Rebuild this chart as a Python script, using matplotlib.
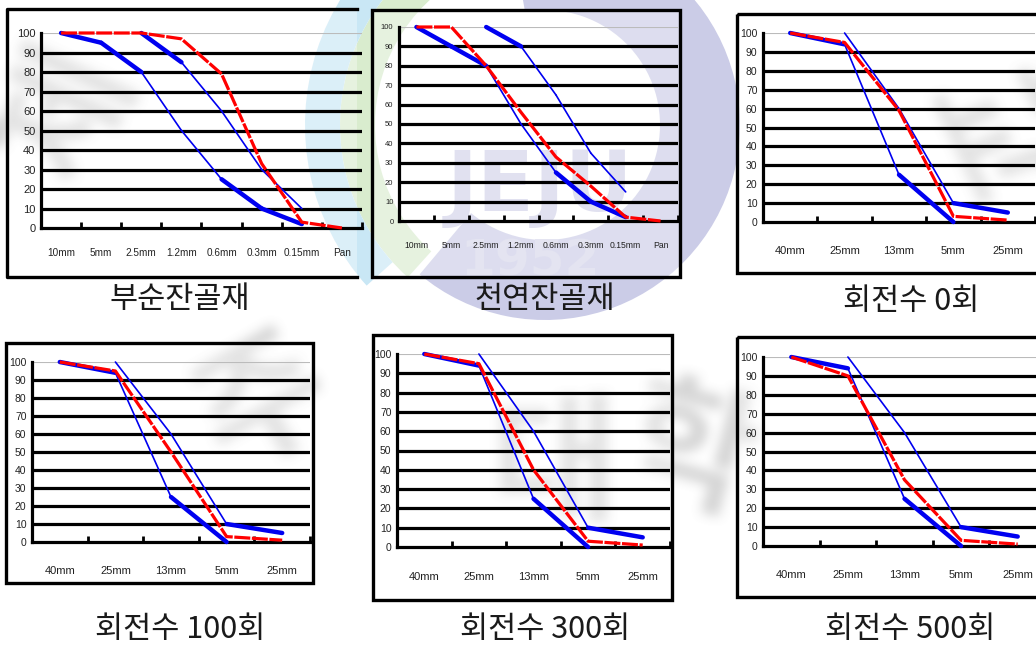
import numpy as np
import matplotlib.pyplot as plt
from matplotlib.patches import Wedge, Rectangle
from matplotlib.lines import Line2D

W, H = 1036, 647

# sieve sizes
fine_sizes = ["10mm", "5mm", "2.5mm", "1.2mm", "0.6mm", "0.3mm", "0.15mm", "Pan"]
coarse_sizes = ["40mm", "25mm", "13mm", "5mm", "25mm"]

# passing percentage (%)
crushed_sand = [100, 100, 100, 97, 79, 33, 3, 0]
natural_sand = [100, 100, 80, 56, 33, 18, 2, 0]
rot_0 = [100, 95, 59, 3, 1]
rot_100 = [100, 95, 50, 3, 1]
rot_300 = [100, 95, 40, 3, 1]
rot_500 = [100, 90, 35, 3, 1]

# grading limits
crushed_lower = [100, 95, 80, 50, 25, 10, 2]   # 10mm ~ 0.15mm
crushed_upper = [100, 85, 60, 30, 10]          # 2.5mm ~ 0.15mm
natural_lower = [100, 90, 80, 50, 25, 10, 2]
natural_upper = [100, 90, 65, 35, 15]
coarse_lower = [100, 94, 25, 0]                # 40mm ~ 5mm
coarse_upper = [100, 60, 10, 5]                # 25mm ~ 2.5mm

titles = ["부순잔골재", "천연잔골재", "회전수 0회", "회전수 100회", "회전수 300회", "회전수 500회"]

# thick / thin pieces of the limit lines
fine_lower_thick = [1, 1, 0, 0, 1, 1]
fine_upper_thick = [1, 0, 0, 0]
coarse_lower_thick = [1, 0, 1]
coarse_upper_thick = [0, 0, 1]

# layout in pixels: box (l, t, r, b), plot (l, r, top, bottom), label y, caption (x, y)
layout = [
    dict(box=(7, 9, 357, 277), open_right=True, plot=(41, 362, 33, 228), xl=252, yfs=8, xfs=7.2, cap=(180, 300)),
    dict(box=(372, 10, 680, 277), open_right=False, plot=(399, 678, 27, 221), xl=246, yfs=5.5, xfs=6.2, cap=(545, 300)),
    dict(box=(737, 14, 1050, 273), open_right=False, plot=(763, 1035, 33, 222), xl=250, yfs=7.5, xfs=8, cap=(911, 302)),
    dict(box=(6, 343, 313, 583), open_right=False, plot=(32, 310, 362, 542), xl=570, yfs=7.5, xfs=8, cap=(180, 630)),
    dict(box=(373, 335, 672, 600), open_right=False, plot=(397, 670, 354, 547), xl=577, yfs=7.5, xfs=8, cap=(545, 630)),
    dict(box=(737, 337, 1050, 597), open_right=False, plot=(763, 1046, 357, 546), xl=575, yfs=7.5, xfs=8, cap=(910, 630)),
]

series = [
    (fine_sizes, crushed_sand, crushed_lower, 0, fine_lower_thick, crushed_upper, 2, fine_upper_thick),
    (fine_sizes, natural_sand, natural_lower, 0, fine_lower_thick, natural_upper, 2, fine_upper_thick),
    (coarse_sizes, rot_0, coarse_lower, 0, coarse_lower_thick, coarse_upper, 1, coarse_upper_thick),
    (coarse_sizes, rot_100, coarse_lower, 0, coarse_lower_thick, coarse_upper, 1, coarse_upper_thick),
    (coarse_sizes, rot_300, coarse_lower, 0, coarse_lower_thick, coarse_upper, 1, coarse_upper_thick),
    (coarse_sizes, rot_500, coarse_lower, 0, coarse_lower_thick, coarse_upper, 1, coarse_upper_thick),
]

label_font = ["Liberation Sans", "DejaVu Sans"]
cjk_font = ["Noto Sans CJK KR", "DejaVu Sans"]


def box_blur(img, r):
    for axis in (0, 1):
        n = img.shape[axis]
        pad = [(r, r) if i == axis else (0, 0) for i in range(2)]
        c = np.cumsum(np.pad(img, pad, mode="edge"), axis=axis)
        c = np.insert(c, 0, 0, axis=axis)
        img = (np.take(c, np.arange(2 * r + 1, 2 * r + 1 + n), axis=axis)
               - np.take(c, np.arange(n), axis=axis)) / (2 * r + 1)
    return img


# soft grey seal strokes, rendered off-screen and blurred
wm = plt.figure(figsize=(W / 100, H / 100), dpi=100)
wax = wm.add_axes([0, 0, 1, 1])
wax.set_xlim(0, W)
wax.set_ylim(H, 0)
wax.axis("off")
for ch, x, y, rot in [("제", 70, 115, 65), ("주", 265, 405, 30), ("대", 555, 470, 0),
                      ("학", 690, 455, -15), ("교", 985, 140, -65)]:
    wax.text(x, y, ch, fontsize=100, color="black", ha="center", va="center", rotation=rot,
             family=cjk_font, fontweight="bold")
wm.canvas.draw()
ink = 1 - np.asarray(wm.canvas.buffer_rgba())[..., 0].astype(float) / 255
plt.close(wm)
ink = box_blur(box_blur(ink, 6), 6)
seal = np.zeros((ink.shape[0], ink.shape[1], 4))
seal[..., :3] = 0.5
seal[..., 3] = ink * 0.32

fig = plt.figure(figsize=(W / 100, H / 100), dpi=100)
fig.patch.set_facecolor("white")

# background emblem, drawn in pixel coordinates
bg = fig.add_axes([0, 0, 1, 1], zorder=-1)
cx, cy = 545, 125
bg.add_patch(Wedge((cx, cy), 195, -100, 130, width=80, facecolor="#cbcce7", edgecolor="none", zorder=0))
bg.add_patch(Wedge((cx, cy), 205, 132, 262, width=35, facecolor="#d9ecce", edgecolor="none", zorder=0))
bg.add_patch(Wedge((cx, cy), 240, 138, 258, width=35, facecolor="#c9e7f5", edgecolor="none", zorder=0))
bg.imshow(seal, extent=(0, W, H, 0), zorder=0.5, interpolation="bilinear")
bg.set_xlim(0, W)
bg.set_ylim(H, 0)
bg.set_aspect("auto")
bg.axis("off")
bg.text(540, 188, "JEJU", fontsize=60, fontweight="bold", color="#d2d2e8", ha="center", va="center", zorder=1)
bg.text(530, 262, "1952", fontsize=36, fontweight="bold", color="#d6d6ea", ha="center", va="center", zorder=1)

for lay, (sizes, red, lower, lo0, lo_thick, upper, up0, up_thick), title in zip(layout, series, titles):
    bl, bt, br, bb = lay["box"]
    bg.add_patch(Rectangle((bl, bt), br - bl, bb - bt, facecolor="white", edgecolor="none", alpha=0.35, zorder=2))
    if lay["open_right"]:
        bg.add_line(Line2D([br, bl, bl, br], [bt, bt, bb, bb], color="black", lw=2.4, zorder=5))
    else:
        bg.add_patch(Rectangle((bl, bt), br - bl, bb - bt, fill=False, edgecolor="black", lw=2.4, zorder=5))
    bg.text(lay["cap"][0], lay["cap"][1], title, fontsize=22, family=cjk_font, color="#1a1a1a",
            ha="center", va="center", zorder=5)

    pl, pr, ptop, pbot = lay["plot"]
    ax = fig.add_axes([pl / W, 1 - pbot / H, (pr - pl) / W, (pbot - ptop) / H])
    ax.patch.set_alpha(0)
    n = len(sizes)
    x = np.arange(n)
    ax.set_xlim(-0.5, n - 0.5)
    ax.set_ylim(0, 100)

    for v in range(10, 100, 10):
        ax.axhline(v, color="black", lw=2.3, zorder=1)
    ax.axhline(100, color="#bbbbbb", lw=0.8, zorder=1)

    xs = x[lo0:lo0 + len(lower)]
    for k in range(len(lower) - 1):
        ax.plot(xs[k:k + 2], lower[k:k + 2], color="#0000f0", lw=3.2 if lo_thick[k] else 1.2,
                solid_capstyle="round", zorder=3, clip_on=False)
    xs = x[up0:up0 + len(upper)]
    for k in range(len(upper) - 1):
        ax.plot(xs[k:k + 2], upper[k:k + 2], color="#0000f0", lw=3.2 if up_thick[k] else 1.2,
                solid_capstyle="round", zorder=3, clip_on=False)
    ax.plot(x, red, color="#ff0000", lw=2.3, ls=(0, (5, 0.5)), zorder=4, clip_on=False)

    for s in ["top", "right"]:
        ax.spines[s].set_visible(False)
    for s in ["left", "bottom"]:
        ax.spines[s].set_linewidth(2.3)
        ax.spines[s].set_zorder(2)

    ax.set_yticks(range(0, 101, 10))
    ax.set_xticks(x, sizes)
    ax.set_xticks(np.arange(n) + 0.5, minor=True)
    pad = (lay["xl"] - pbot - 4.5) * 0.72
    ax.tick_params(axis="x", which="major", length=0, pad=pad, labelsize=lay["xfs"])
    ax.tick_params(axis="x", which="minor", direction="in", length=4, width=2)
    ax.tick_params(axis="y", length=0, pad=4, labelsize=lay["yfs"])
    for t in ax.get_xticklabels() + ax.get_yticklabels():
        t.set_family(label_font)
        t.set_color("#222222")

fig.savefig("out.png", dpi=100)
